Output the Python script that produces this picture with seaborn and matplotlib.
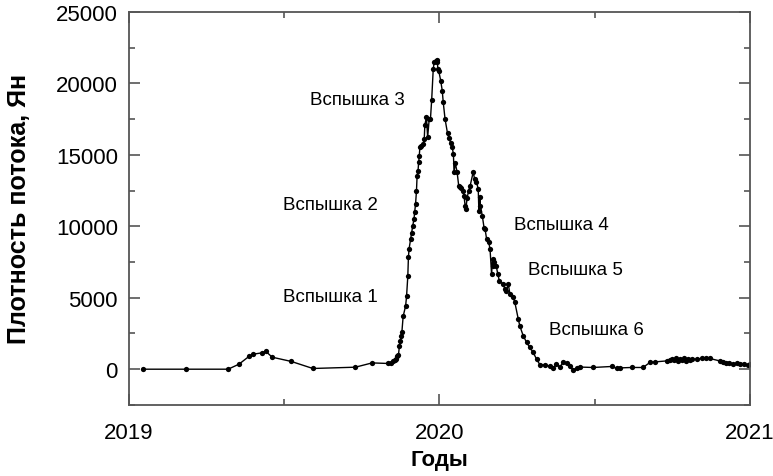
import matplotlib
matplotlib.use("Agg")
import matplotlib.pyplot as plt
from matplotlib.ticker import MultipleLocator
import seaborn as sns
import pandas as pd

years = [
    2019.046, 2019.183, 2019.319, 2019.354, 2019.386, 2019.400, 2019.427, 2019.440,
    2019.461, 2019.523, 2019.592, 2019.729, 2019.783, 2019.835, 2019.845, 2019.850,
    2019.856, 2019.860, 2019.864, 2019.868, 2019.871, 2019.874, 2019.877, 2019.879,
    2019.883, 2019.891, 2019.894, 2019.898, 2019.900, 2019.902, 2019.907, 2019.910,
    2019.914, 2019.918, 2019.920, 2019.923, 2019.926, 2019.928, 2019.931, 2019.933,
    2019.935, 2019.937, 2019.939, 2019.948, 2019.951, 2019.953, 2019.958, 2019.962,
    2019.967, 2019.971, 2019.975, 2019.980, 2019.983, 2019.988, 2019.991, 2019.993,
    2019.995, 2019.998, 2020.004, 2020.009, 2020.012, 2020.018, 2020.026, 2020.031,
    2020.036, 2020.041, 2020.045, 2020.047, 2020.051, 2020.057, 2020.062, 2020.066,
    2020.069, 2020.075, 2020.079, 2020.083, 2020.085, 2020.089, 2020.094, 2020.099,
    2020.109, 2020.113, 2020.119, 2020.125, 2020.127, 2020.130, 2020.132, 2020.138,
    2020.144, 2020.147, 2020.152, 2020.159, 2020.163, 2020.168, 2020.171, 2020.173,
    2020.177, 2020.183, 2020.188, 2020.193, 2020.206, 2020.211, 2020.216, 2020.222,
    2020.227, 2020.238, 2020.243, 2020.254, 2020.259, 2020.270, 2020.281, 2020.291,
    2020.302, 2020.313, 2020.324, 2020.340, 2020.356, 2020.367, 2020.377, 2020.388,
    2020.399, 2020.410, 2020.420, 2020.431, 2020.442, 2020.452, 2020.495, 2020.555,
    2020.571, 2020.581, 2020.619, 2020.656, 2020.678, 2020.694, 2020.732, 2020.742,
    2020.748, 2020.755, 2020.761, 2020.768, 2020.774, 2020.781, 2020.787, 2020.794,
    2020.800, 2020.806, 2020.813, 2020.829, 2020.845, 2020.860, 2020.871, 2020.903,
    2020.913, 2020.922, 2020.932, 2020.945, 2020.958, 2020.968, 2020.980, 2020.994,
    2021.000,
]

flux = [
    0, 0, 0, 350, 890, 1050, 1140, 1260,
    840, 540, 50, 140, 440, 400, 450, 550,
    650, 700, 900, 1000, 1630, 1980, 2330, 2610,
    3690, 4430, 5090, 6490, 7820, 8400, 9100, 9520,
    10040, 10500, 10970, 11550, 12490, 13540, 13890, 14470,
    14940, 15530, 15640, 15760, 16110, 17090, 17630, 16230,
    17510, 17510, 18860, 21010, 21480, 21590, 21660, 21480,
    21010, 20850, 20190, 19490, 18720, 17510, 16500, 16180,
    15830, 15530, 15060, 13770, 14430, 13770, 12840, 12720,
    12650, 12490, 12140, 11390, 11200, 11950, 12490, 12840,
    13820, 13310, 13120, 12610, 11090, 12020, 11440, 10740,
    9850, 9800, 9100, 8870, 8400, 6650, 7700, 7230,
    7470, 7230, 6650, 6180, 5950, 5600, 5500, 5950,
    5250, 5020, 4670, 3500, 3030, 2330, 1870, 1520,
    1170, 700, 300, 300, 200, 100, 350, 150,
    500, 400, 200, -50, 50, 150, 120, 190,
    50, 90, 120, 120, 470, 510, 580, 620,
    700, 650, 750, 600, 700, 650, 750, 600,
    700, 650, 700, 700, 750, 800, 750, 580,
    500, 450, 420, 380, 400, 350, 330, 300,
    350,
]

flare_labels = ["Вспышка 1", "Вспышка 2", "Вспышка 3", "Вспышка 4", "Вспышка 5", "Вспышка 6"]
flare_x = [2019.496, 2019.496, 2019.583, 2020.240, 2020.285, 2020.352]
flare_y = [5100, 11550, 18900, 10150, 7000, 2750]

xticks = [2019, 2020, 2021]
yticks = [0, 5000, 10000, 15000, 20000, 25000]

sns.set_theme(style="ticks")
plt.rcParams["font.family"] = ["Liberation Sans", "DejaVu Sans"]
plt.rcParams["text.color"] = "black"
plt.rcParams["axes.labelcolor"] = "black"

fig = plt.figure(figsize=(7.73, 4.77), dpi=100)
ax = fig.add_axes([0.167, 0.149, 0.803, 0.824])

df = pd.DataFrame({"year": years, "flux": flux})
sns.lineplot(data=df, x="year", y="flux", ax=ax, color="black", linewidth=1.0,
             marker="o", markersize=3.8, markeredgewidth=0, sort=False, estimator=None)

for lab, lx, ly in zip(flare_labels, flare_x, flare_y):
    ax.text(lx, ly, lab, fontsize=13.5, ha="left", va="center", color="black")

ax.set_xlim(2019, 2021)
ax.set_ylim(-2500, 25000)
ax.set_xticks(xticks)
ax.set_xticklabels([str(t) for t in xticks])
ax.set_yticks(yticks)
ax.set_yticklabels([str(t) for t in yticks])
ax.xaxis.set_minor_locator(MultipleLocator(0.5))
ax.yaxis.set_minor_locator(MultipleLocator(2500))

for s in ax.spines.values():
    s.set_visible(True)
    s.set_color("#555555")
    s.set_linewidth(1.3)

ax.tick_params(which="both", direction="in", top=True, right=True, colors="#555555",
               labelcolor="black", width=1.2)
ax.tick_params(which="major", length=8, labelsize=16)
ax.tick_params(axis="x", which="major", pad=12)
ax.tick_params(axis="y", which="major", pad=8)
ax.tick_params(which="minor", length=4.5)

ax.set_xlabel("Годы", fontsize=16, fontweight="bold", color="black")
ax.set_ylabel("Плотность потока, Ян", fontsize=18, fontweight="bold", color="black")
ax.xaxis.set_label_coords(0.5, -0.112)
ax.yaxis.set_label_coords(-0.158, 0.5)

fig.savefig("out.png", dpi=100)
